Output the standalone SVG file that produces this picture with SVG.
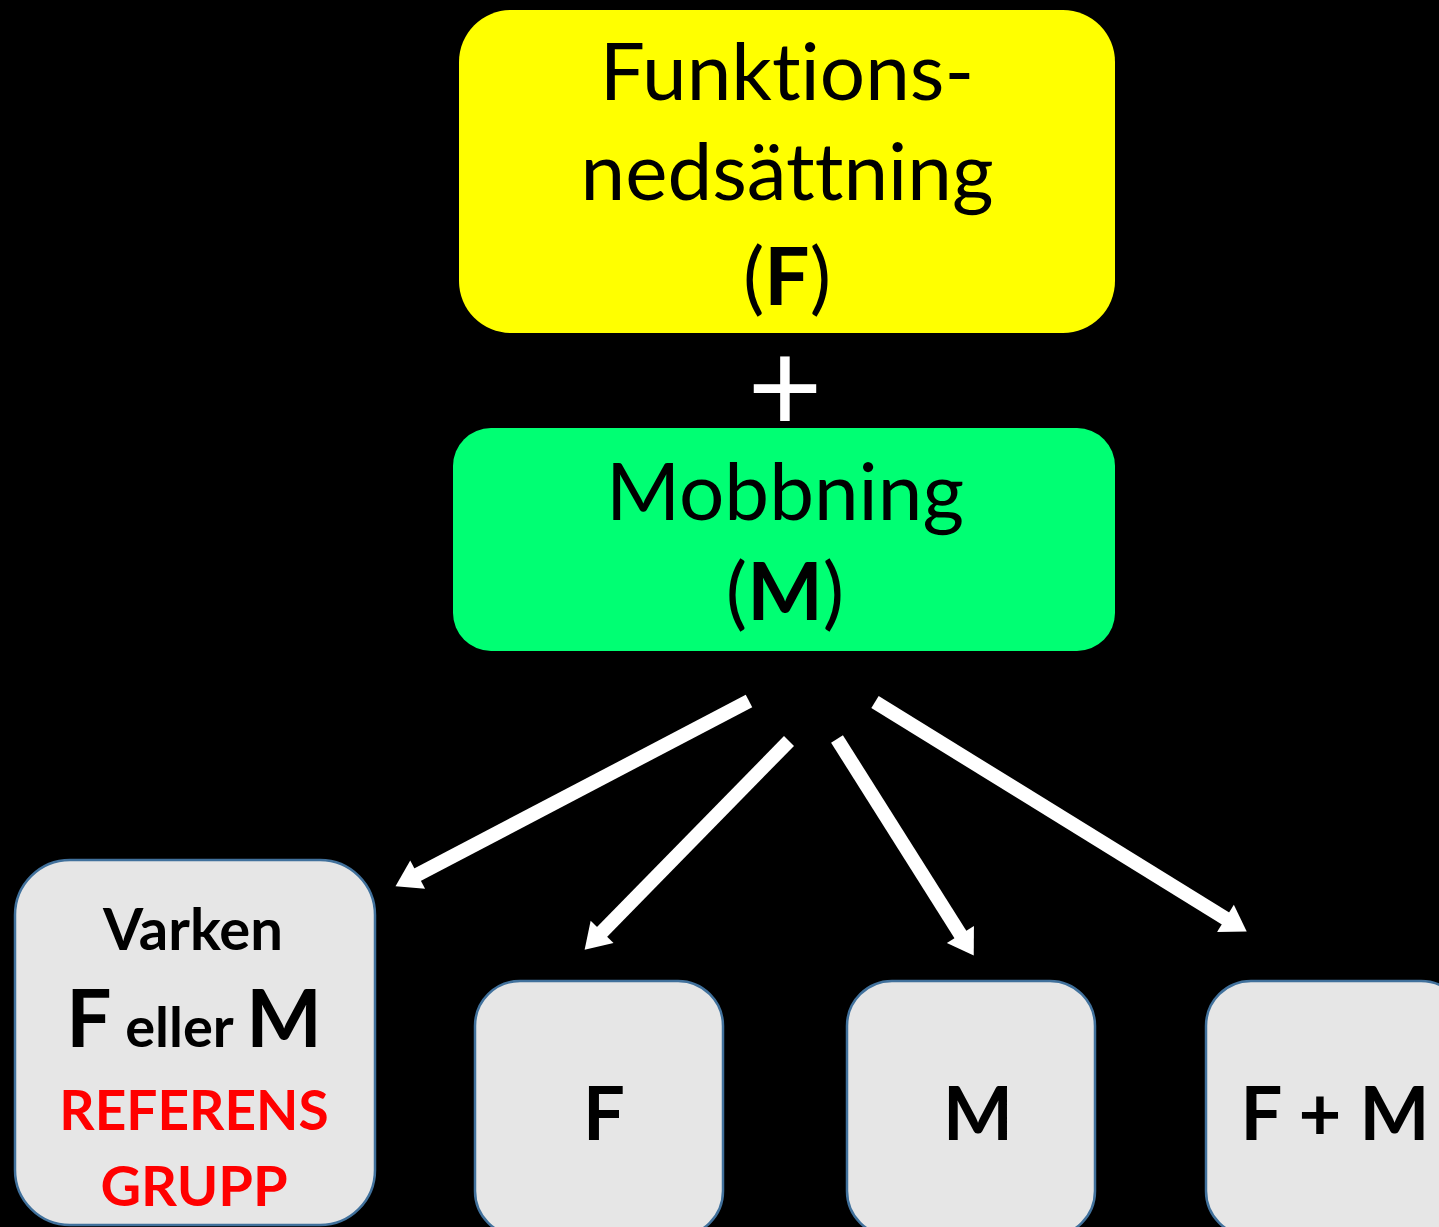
<svg xmlns="http://www.w3.org/2000/svg" width="1439" height="1227" viewBox="0 0 1439 1227">
<style>
.t{font-family:Lato,"Open Sans","Liberation Sans",sans-serif;text-anchor:middle;fill:#000;font-variant-ligatures:none}
.b{font-weight:bold}
.red{fill:#FF0000}
.card{fill:#E6E6E6;stroke:#41719C;stroke-width:2.5}
.arr{stroke:#FFFFFF;stroke-width:14;fill:none;marker-end:url(#ah)}
</style>
<defs>
<marker id="ah" markerUnits="userSpaceOnUse" viewBox="-4 -18 30 36" refX="0" refY="0" markerWidth="30" markerHeight="36" orient="auto">
<path d="M-3,-16 L22,0 L-3,16 z" fill="#FFFFFF"/>
</marker>
</defs>
<rect x="0" y="0" width="1439" height="1227" fill="#000000"/>
<g id="node-funktion">
<rect x="459" y="10" width="656" height="323" rx="52" fill="#FFFF00"/>
<text class="t" x="787" y="100" font-size="80">Funktions-</text>
<text class="t" x="787" y="200" font-size="80">nedsättning</text>
<text class="t" x="787" y="305" font-size="80">(<tspan class="b">F</tspan>)</text>
</g>
<g id="node-plus">
<text class="t" x="785" y="432" font-size="130" style="fill:#FFFFFF">+</text>
</g>
<g id="node-mobbning">
<rect x="453" y="428" width="662" height="223" rx="38" fill="#00FF73"/>
<text class="t" x="785" y="520" font-size="80">Mobbning</text>
<text class="t" x="785" y="620" font-size="80">(<tspan class="b">M</tspan>)</text>
</g>
<g id="connectors">
<line class="arr" x1="749" y1="701" x2="415" y2="876"/>
<line class="arr" x1="789" y1="741" x2="600" y2="934"/>
<line class="arr" x1="837" y1="739" x2="962" y2="937"/>
<line class="arr" x1="875" y1="702" x2="1228" y2="920"/>
</g>
<g id="node-referens">
<rect class="card" x="15" y="860" width="360" height="365" rx="55"/>
<text class="t b" x="193" y="950" font-size="58">Varken</text>
<text class="t b" x="194" y="1047"><tspan font-size="80">F</tspan><tspan font-size="56"> eller </tspan><tspan font-size="80">M</tspan></text>
<text class="t b red" x="194" y="1130" font-size="55">REFERENS</text>
<text class="t b red" x="194" y="1206" font-size="56">GRUPP</text>
</g>
<g id="node-f">
<rect class="card" x="475" y="981" width="248" height="255" rx="45"/>
<text class="t b" x="604" y="1140" font-size="74">F</text>
</g>
<g id="node-m">
<rect class="card" x="847" y="981" width="248" height="255" rx="45"/>
<text class="t b" x="978" y="1140" font-size="74">M</text>
</g>
<g id="node-fm">
<rect class="card" x="1206" y="981" width="260" height="255" rx="45"/>
<text class="t b" x="1335" y="1140" font-size="74">F + M</text>
</g>
</svg>
